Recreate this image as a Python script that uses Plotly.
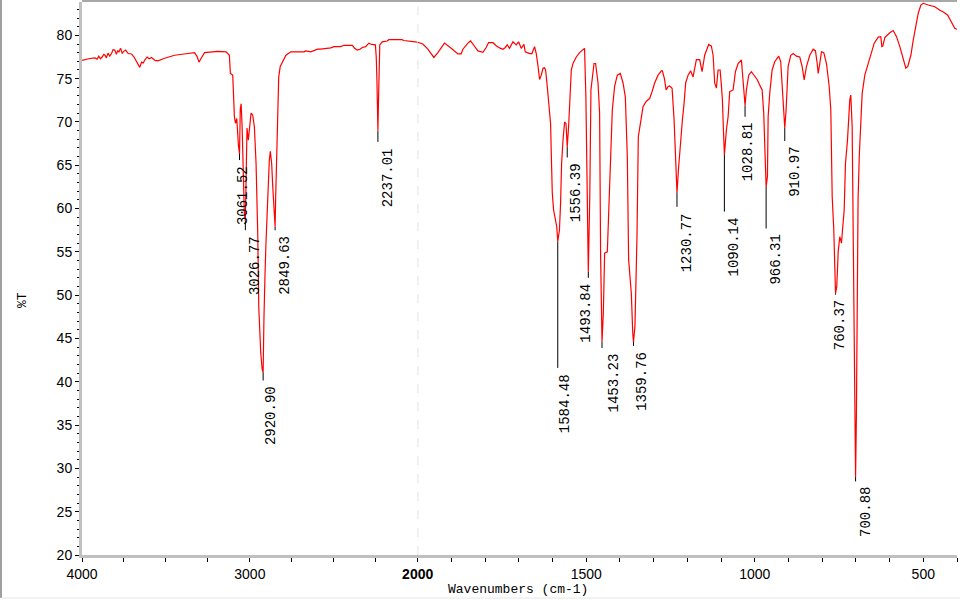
import plotly.graph_objects as go

# ---------------- data ----------------
wavenumber = [
    4000, 3992, 3960, 3923, 3910, 3900, 3890, 3880, 3870, 3863, 3855, 3845, 3835, 3824, 3815, 3805,
    3795, 3788, 3780, 3770, 3760, 3754,
    3740, 3725, 3705, 3690, 3676, 3664, 3656, 3645, 3635, 3626, 3612, 3600, 3586, 3565, 3547, 3508,
    3448, 3369, 3329, 3313, 3303, 3290, 3270, 3191, 3141, 3122, 3116, 3102, 3098, 3092, 3086, 3078,
    3068, 3061.52, 3057, 3052, 3046, 3039, 3033, 3026.77, 3023, 3017, 3009, 3003, 2993, 2983, 2973,
    2963, 2957, 2953, 2947, 2941, 2935, 2927, 2920.90, 2916, 2912, 2910, 2904, 2894, 2884, 2878,
    2870, 2864, 2858, 2853, 2849.63, 2846, 2840, 2834, 2828, 2819, 2805, 2785, 2756, 2677, 2667,
    2637, 2597, 2578, 2518, 2499, 2459, 2439, 2389, 2376, 2360, 2344, 2330, 2310, 2291, 2275, 2252,
    2247, 2243, 2240, 2237.01, 2234, 2231, 2226, 2211, 2182, 2172, 2093, 2083, 2044, 2014, 2000,
    1984.6, 1969.8, 1952.0, 1940.1, 1920.5, 1900.6, 1880.7, 1870.9, 1865.9, 1851.0, 1843.3, 1836.2,
    1821.3, 1806.5, 1796.7, 1789.9, 1776.8, 1767.0, 1757.2, 1747.1, 1740, 1734.3, 1727.5, 1717.4,
    1707.6, 1700.8, 1692.8, 1684.8, 1680.9, 1668.1, 1661.0, 1653.3, 1648.3, 1643.2, 1638.4, 1633.4,
    1628.3, 1624, 1620.6, 1615.6, 1610.6, 1605.8, 1603.7, 1600.7, 1596.9, 1591.8, 1587.5, 1584.48,
    1579.5, 1576.1, 1573.1, 1568.9, 1564.2, 1560, 1556.39, 1552, 1549.4, 1544.3, 1539.3, 1529.5,
    1519.7, 1511, 1505, 1501, 1497.5, 1493.84, 1489.5, 1486, 1476.9, 1472.2, 1465.0, 1460.3, 1457.3,
    1453.23, 1449.3, 1445.4, 1437.4, 1433.6, 1429.4, 1422.6, 1415.8, 1407.8, 1398.9, 1390.8, 1384.0,
    1378.1, 1374.2, 1366.2, 1362, 1359.76, 1355.5, 1349.4, 1345.5, 1338.6, 1331.5, 1321.7, 1311.9,
    1304.7, 1297.0, 1286.9, 1277, 1274.1, 1268, 1263, 1257, 1252.5, 1245.3, 1239.4, 1235.5, 1233,
    1230.77, 1226.5, 1220.7, 1214.8, 1209.7, 1205.0, 1197.8, 1190.2, 1183.0, 1173.2, 1163.4, 1156.3,
    1148.6, 1136.7, 1128.7, 1123.6, 1118.9, 1113.8, 1108.8, 1102.8, 1099.0, 1096.0, 1093.0, 1090.14,
    1084.1, 1079.1, 1074.3, 1064.2, 1057.4, 1049.4, 1039.6, 1032.8, 1028.81, 1024.8, 1017.9, 1009.9,
    1000.1, 992.1, 985.3, 978.1, 973.4, 970.4, 966.31, 962.4, 960.3, 955.6, 948.5, 940.8, 928.9,
    923.0, 917.9, 914.0, 910.97, 907.0, 901.0, 893.2, 886.1, 876.3, 866.5, 859.4, 853.4, 846.6,
    836.8, 826.7, 819.9, 814.8, 811.8, 807.1, 802.1, 795.2, 787.2, 779.2, 774.4, 770.3, 765.5,
    762.6, 760.37, 756.7, 752.5, 747.8, 742.7, 739.8, 734.7, 730.9, 724.9, 718.1, 715.1, 711.0,
    708.0, 705.0, 703.0, 700.88, 698.5, 697.0, 695.5, 693.5, 690.0, 688.2, 681.3, 673.5, 663.4,
    653.6, 645.6, 633.7, 626.0, 623, 620, 614.1, 599.3, 589.2, 579.4, 569.6, 559.5, 551.8, 546,
    544.7, 536.9, 529.8, 523.0, 515.0, 507.2, 500.1, 485.3, 475, 465.7, 450.8, 440.7, 428.0, 416.1,
    406.3, 400,
]
transmittance = [
    77.1, 77.15, 77.3, 77.4, 77.25, 77.6, 77.3, 77.5, 77.8, 77.7, 77.4, 77.95, 77.6, 77.9, 78.35, 78.3,
    77.8, 78.2, 78.1, 78.5, 77.9, 78.1,
    78.3, 77.9, 77.85, 77.5, 76.95, 76.5, 76.3, 76.9, 76.8, 77.15, 77.5, 77.3, 77.45, 77.1, 77.05, 77.35,
    77.7, 77.9, 78.0, 77.5, 76.9, 77.35, 78.0, 78.15, 78.1, 77.7, 75.6, 75.4, 72.5, 70.6, 69.85, 70.4,
    67.3, 66.3, 71.5, 72.1, 69.45, 62.5, 59.5, 58.6, 64.8, 69.3, 67.9, 69.1, 71.0, 70.8, 69.45,
    65.2, 61.0, 57.15, 48.7, 45.6, 43.3, 41.5, 41.1, 47.35, 49.45, 52.15, 56.0, 62.15, 65.6, 66.6,
    65.2, 62.7, 61.0, 59.8, 57.9, 61.4, 66.95, 71.0, 75.2, 76.4, 76.95, 77.7, 78.1, 78.1, 78.2,
    78.1, 78.4, 78.4, 78.55, 78.7, 78.7, 78.85, 78.85, 78.5, 78.3, 78.4, 78.6, 78.7, 79.1, 78.95, 78.9,
    77.5, 74.9, 70.5, 69.0, 72.0, 76.5, 78.9, 79.25, 79.35, 79.5, 79.5, 79.4, 79.35, 79.25, 79.2,
    79.0, 78.4, 77.45, 78.0, 79.1, 78.5, 77.85, 77.85, 78.4, 79.1, 79.35, 79.0,
    78.2, 78.05, 78.6, 79.15, 79.15, 78.8, 78.55, 78.4, 78.6, 78.9, 78.5, 79.25,
    78.9, 79.25, 78.5, 78.95, 78.1, 77.9, 77.9, 78.7, 77.9, 76.5, 74.9, 75.4,
    76.2, 76.25, 76.0, 74.1, 71.4, 69.85, 66.4, 61.8, 59.85, 58.5, 57.9, 56.2,
    57.5, 60.6, 65.2, 67.9, 70.0, 69.8, 67.1, 69.65, 72.15, 76.0, 76.75, 77.5,
    78.0, 78.3, 78.5, 72.9, 60.8, 52.7, 61.4, 73.7, 76.75, 76.75, 74.5, 71.0, 54.45,
    44.65, 47.9, 54.85, 55.0, 59.1, 65.2, 71.4, 74.1, 75.4, 75.6, 74.5, 72.9,
    66.0, 54.1, 50.2, 45.6, 44.6, 46.4, 56.75, 68.3, 70.2, 71.75, 72.4, 72.7,
    73.5, 74.5, 75.4, 75.9, 75.9, 75.0, 73.7, 74.1, 74.15, 73.9, 70.3, 66.4, 63.3,
    61.8, 64.45, 67.9, 70.2, 72.15, 74.5, 75.4, 75.9, 75.2, 77.2, 77.2, 75.8,
    77.7, 78.95, 78.75, 77.7, 74.5, 73.9, 76.0, 76.0, 74.25, 72.55, 69.1, 66.2,
    69.1, 70.6, 73.5, 73.7, 75.8, 76.75, 77.15, 73.7, 71.9, 73.7, 75.4, 75.8,
    75.2, 74.85, 74.25, 73.7, 71.0, 67.15, 62.5, 63.7, 70.6, 73.3, 76.0, 76.95, 77.6,
    76.95, 73.7, 71.4, 69.3, 71.4, 76.4, 77.7, 77.9, 77.6, 77.5, 76.4, 74.85, 76.4,
    77.7, 78.4, 78.2, 76.75, 75.6, 76.75, 78.1, 78.0, 76.75, 74.1, 71.4, 61.4, 57.5,
    53.3, 50.2, 51.0, 55.0, 56.75, 56.0, 57.5, 59.85, 65.2, 67.9, 72.55, 73.1, 69.45,
    55.0, 45.0, 35.0, 29.0, 36.0, 46.0, 55.0, 61.0, 66.0, 67.55, 73.3, 75.4, 76.75,
    78.1, 79.1, 79.8, 79.85, 78.7, 78.75, 79.75, 80.3, 80.55, 79.85, 78.7, 77.3, 76.2, 76.4,
    76.6, 77.7, 79.45, 81.0, 82.55, 83.5, 83.7, 83.5, 83.4, 83.3, 82.9, 82.7, 82.35, 81.55,
    80.8, 80.7,
]

peak_labels = ["3061.52", "3026.77", "2920.90", "2849.63", "2237.01", "1584.48", "1556.39",
               "1493.84", "1453.23", "1359.76", "1230.77", "1090.14", "1028.81", "966.31",
               "910.97", "760.37", "700.88"]
peak_wn = [3061.52, 3026.77, 2920.90, 2849.63, 2237.01, 1584.48, 1556.39, 1493.84, 1453.23,
           1359.76, 1230.77, 1090.14, 1028.81, 966.31, 910.97, 760.37, 700.88]
peak_t = [66.3, 58.6, 41.1, 57.9, 69.0, 56.2, 67.1, 52.7, 44.65, 44.6, 61.8, 66.2, 71.9, 62.5,
          69.3, 50.2, 29.0]
label_t = [65.6, 57.5, 40.15, 57.5, 67.7, 41.6, 65.9, 52.0, 43.9, 44.15, 60.2, 59.65, 70.6, 57.7,
           67.8, 50.06, 28.5]

y_ticks = [20, 25, 30, 35, 40, 45, 50, 55, 60, 65, 70, 75, 80]

# ---------------- layout constants ----------------
W, H = 960, 600
L, R, T, B = 82, 3, 2, 45
split = (417.7 - L) / (W - L - R)
label_xshift = [3, 9, 8, 10, 10, 8, 9, -2, 11, 9, 10, 10, 3, 10, 10, 4, 11]

RED = "#ff0000"
AXGRAY = "#c0c0c0"
MONO = "Liberation Mono, DejaVu Sans Mono, monospace"
SANS = "Liberation Sans, Arial, sans-serif"

hi_x = [w for w in wavenumber if w >= 2000]
hi_y = [t for w, t in zip(wavenumber, transmittance) if w >= 2000]
lo_x = [w for w in wavenumber if w <= 2000]
lo_y = [t for w, t in zip(wavenumber, transmittance) if w <= 2000]

fig = go.Figure()
fig.add_trace(go.Scatter(x=hi_x, y=hi_y, mode="lines", line=dict(color=RED, width=1.2),
                         xaxis="x", yaxis="y", hoverinfo="skip", showlegend=False))
fig.add_trace(go.Scatter(x=lo_x, y=lo_y, mode="lines", line=dict(color=RED, width=1.2),
                         xaxis="x2", yaxis="y", hoverinfo="skip", showlegend=False))

# connector lines for peak labels
hx, hy, lx, ly = [], [], [], []
for w, pt, lt in zip(peak_wn, peak_t, label_t):
    if w > 2000:
        hx += [w, w, None]; hy += [pt, lt, None]
    else:
        lx += [w, w, None]; ly += [pt, lt, None]
fig.add_trace(go.Scatter(x=hx, y=hy, mode="lines", line=dict(color="black", width=1),
                         xaxis="x", yaxis="y", hoverinfo="skip", showlegend=False))
fig.add_trace(go.Scatter(x=lx, y=ly, mode="lines", line=dict(color="black", width=1),
                         xaxis="x2", yaxis="y", hoverinfo="skip", showlegend=False))

annotations = []
for txt, w, lt, dx in zip(peak_labels, peak_wn, label_t, label_xshift):
    annotations.append(dict(
        x=w, y=lt, xref="x" if w > 2000 else "x2", yref="y", text=txt, showarrow=False,
        textangle=-90, xanchor="center", yanchor="top", xshift=dx, yshift=-4,
        font=dict(family=MONO, size=14, color="black")))

pw = W - L - R
ph = H - T - B
annotations.append(dict(x=(12.5 - L) / pw, y=(H - B - 300) / ph, xref="paper", yref="paper",
                        text="%T", showarrow=False, textangle=-90,
                        font=dict(family=MONO, size=13, color="black")))
annotations.append(dict(x=(517.5 - L) / pw, y=-(590 - (H - B)) / ph, xref="paper", yref="paper",
                        text="Wavenumbers (cm-1)", showarrow=False, yanchor="middle",
                        font=dict(family=MONO, size=13, color="black")))

axis_common = dict(showgrid=False, zeroline=False, showline=True, linecolor=AXGRAY, linewidth=3,
                   ticks="outside", ticklen=4, tickcolor="black", tickwidth=1,
                   tickfont=dict(family=SANS, size=14, color="black"))

fig.update_layout(
    width=W, height=H, margin=dict(l=L, r=R, t=T, b=B),
    paper_bgcolor="white", plot_bgcolor="white", showlegend=False,
    xaxis=dict(domain=[0, split], range=[4000, 2000], anchor="y",
               tickvals=[4000, 3000], ticktext=["4000", "3000"],
               minor=dict(dtick=250, tick0=0, ticks="outside", ticklen=4, tickcolor="black"),
               **axis_common),
    xaxis2=dict(domain=[split, 1], range=[2000, 400], anchor="y",
                tickvals=[2000, 1500, 1000, 500],
                ticktext=["<b>2000</b>", "1500", "1000", "500"],
                minor=dict(dtick=100, tick0=0, ticks="outside", ticklen=4, tickcolor="black"),
                **axis_common),
    yaxis=dict(domain=[0, 1], range=[20, 83.85], anchor="x", tickvals=y_ticks,
               minor=dict(dtick=1, tick0=0, ticks="outside", ticklen=2, tickcolor="black"),
               **axis_common),
    annotations=annotations,
    shapes=[
        dict(type="line", xref="x2", yref="paper", x0=2000, x1=2000, y0=0, y1=1,
             line=dict(color="#bdbdbd", width=1, dash="dash"), layer="below"),
        dict(type="line", xref="paper", yref="paper", x0=0, x1=1, y0=1 + 1 / ph, y1=1 + 1 / ph,
             line=dict(color="#a8a8a8", width=2)),
        dict(type="line", xref="paper", yref="paper", x0=(1 - L) / pw, x1=(1 - L) / pw,
             y0=-(598 - (H - B)) / ph, y1=1 + 2 / ph, line=dict(color="#a0a0a0", width=2)),
        dict(type="line", xref="paper", yref="paper", x0=(1 - L) / pw, x1=1 + R / pw,
             y0=-(598 - (H - B)) / ph, y1=-(598 - (H - B)) / ph,
             line=dict(color="#e6e6e6", width=1)),
    ],
)

fig.write_html("out.html", config={"displayModeBar": False},
               post_script="document.body.style.margin='0';document.body.style.overflow='hidden';")
